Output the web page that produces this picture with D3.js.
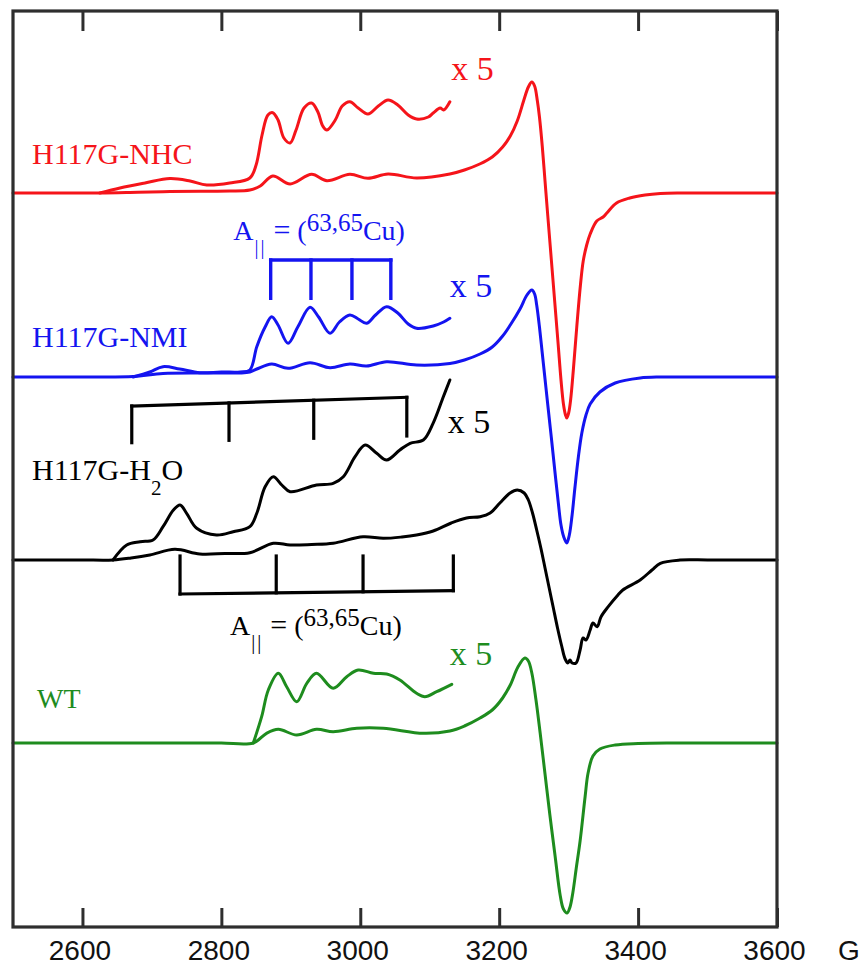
<!DOCTYPE html>
<html>
<head>
<meta charset="utf-8">
<script src="https://cdn.jsdelivr.net/npm/d3@7"></script>
<style>
  html, body { margin: 0; padding: 0; background: #fff; }
  svg { display: block; }
</style>
</head>
<body>
<svg id="chart" width="864" height="968"></svg>
<script>
// ---- magnetic field axis (G) ----
const fieldDomain = [2500, 3600];
const fieldTicks = [2600, 2800, 3000, 3200, 3400, 3600];
const fieldUnit = "G";

// ---- spectra: [field (G), signal (a.u., relative to own baseline)] ----
const nhcFull = [[2500,0],[2560,0],[2625,0],[2680,0.8],[2726,1.5],[2770,1.8],[2812,2],[2841,3],[2856,7],[2874,17],[2899,9],[2930,18.7],[2952,12.3],[2985,18.7],[3011,14.7],[3040,19],[3081,15],[3129,19],[3150,23],[3172,29],[3190,36],[3205,46],[3216,57],[3226,72],[3236,94],[3242,106],[3247,111],[3251,107],[3255,92],[3258,76],[3262,47],[3266,12],[3270,-23],[3275,-66],[3280,-109],[3285,-152],[3289,-187],[3292.5,-211],[3295.5,-222],[3297.3,-225],[3300,-220],[3303,-206],[3307,-175],[3311.7,-134],[3317,-92],[3321,-68],[3326,-52],[3331,-41],[3340.5,-28],[3349.6,-24],[3355,-20],[3369,-10],[3388,-5],[3410,-2],[3432,-0.5],[3460,0],[3500,0],[3550,0],[3600,0]];
const nhcX5 = [[2625,0],[2654,5],[2690,10],[2726,14.5],[2755,12],[2779,8],[2812,10],[2841,15],[2850,28],[2858.6,58],[2867,78],[2874,80.3],[2881.6,73],[2890,55],[2899,50],[2907.5,63],[2919,85],[2930,90],[2939,81],[2946,67],[2952,63],[2964,73],[2974,87],[2985,91.3],[2997,85],[3011,79],[3026,87],[3040,93],[3054,88],[3069,78],[3081,74],[3098,76],[3105,80],[3115,85],[3120,83],[3129,91.3]];

const nmiFull = [[2500,0],[2560,0],[2620,0],[2673,0.5],[2716,3.5],[2769,4],[2800,4],[2827,4],[2841,5],[2851,8],[2872.5,13],[2896,8.7],[2927.7,14.3],[2956.5,9.3],[2985,13],[3009,11],[3038,15.3],[3081,12],[3129,13.5],[3150,17],[3172.5,23],[3190,30],[3205,41],[3216,52],[3230,68],[3240,82],[3247,87],[3251,83],[3254,72],[3258,50],[3262,24],[3266,-2],[3270,-28],[3275,-60],[3280,-93],[3285,-125],[3289,-148],[3293,-160],[3297.3,-166],[3301,-158],[3305,-138],[3309,-111],[3314,-80],[3319,-56],[3325,-38],[3331,-27],[3345,-15],[3367,-6],[3403,-1],[3432,0],[3480,0],[3540,0],[3600,0]];
const nmiX5 = [[2673,0],[2697,5],[2716,10.3],[2740,8],[2769,4.3],[2800,5],[2827,5],[2841,7],[2851,30.3],[2863,50],[2872.5,60.3],[2881.6,52],[2896,33.7],[2910,50],[2927.7,69.7],[2940,60],[2956.5,43.7],[2970,55],[2985,62],[2997,58],[3009,53.7],[3022,62],[3038,70.3],[3054,64],[3069,53],[3081,48.7],[3105,51],[3120,55],[3129,58.7]];

const waterFull = [[2500,0],[2550,0],[2600,0],[2644,0],[2670,2],[2697,5],[2733,10.7],[2769,6],[2805,6.5],[2841,7.3],[2874.8,16.7],[2899,15],[2930,15.5],[2961,16.7],[3004,23.3],[3033,21.7],[3060,23],[3081,25],[3105,29],[3131,37],[3153,42],[3172.5,43.3],[3187,47],[3201,57],[3215.7,67],[3226,70],[3236,67],[3242,60],[3248,47],[3254,30],[3260,12],[3266,-8],[3272,-28],[3278,-48],[3284,-68],[3290,-86],[3295,-99],[3299,-103],[3302,-100],[3305,-103],[3310.7,-103],[3316.5,-90],[3320.8,-78],[3325,-80],[3331,-70],[3335,-63],[3341,-66.7],[3346.7,-56.7],[3357,-46.7],[3371,-35],[3378,-30],[3403,-20],[3420,-10],[3432,-3.3],[3460.5,0],[3500,0],[3550,0],[3600,0]];
const waterX5 = [[2644,0],[2663.7,15],[2683,18.3],[2701.6,20],[2716,33.3],[2731,50],[2740.5,55],[2750,46.7],[2764.5,31.7],[2793,25],[2817,28.3],[2841,33.3],[2851,46.7],[2863,73.3],[2874.8,83.3],[2887,75],[2899,68.3],[2937,75],[2961,76.7],[2975.6,83.3],[2992.5,103.3],[3007,115],[3023.7,106.7],[3038,100],[3057,110],[3071.7,116.7],[3090.8,120],[3104.8,136.7],[3119.6,163.3],[3129,180]];

const wtFull = [[2500,0],[2560,0],[2620,0],[2680,0],[2740,0],[2800,0],[2846,0],[2865,9.7],[2882,13.7],[2908.5,8],[2937,13.7],[2961,11.3],[2995,14.7],[3033,14.7],[3091,9.7],[3129,12],[3150,17],[3172.5,25],[3190,33],[3205,45],[3216,58],[3227,76],[3237,85],[3242,82],[3247,70],[3253,43],[3259,10],[3266,-31],[3273,-72],[3280.5,-113],[3288,-153],[3292.5,-166],[3297.8,-170],[3302,-164],[3306,-150],[3311,-125],[3316.5,-98],[3323.7,-53.7],[3328,-30],[3335,-13],[3345,-6],[3367,-2],[3400,-0.5],[3450,0],[3500,0],[3550,0],[3600,0]];
const wtX5 = [[2846,0],[2858,26.3],[2867.6,53],[2882,69.7],[2894,56.3],[2908.5,41.3],[2923,59.7],[2937,69.7],[2961,54.7],[2980.5,66.3],[2997,73],[3019,69.7],[3038,69],[3057,63],[3081,49.7],[3093,46.3],[3110,51.3],[3131.7,58.7]];

// ---- stacking and styling of the four samples ----
const sampleNames = ["H117G-NHC", "H117G-NMI", "H117G-H2O", "WT"];
const sampleColors = ["#f5141a", "#1414f0", "#000000", "#1e8c1e"];
const sampleOffsets = [734, 550, 367, 184];
const sampleFull = [nhcFull, nmiFull, waterFull, wtFull];
const sampleX5 = [nhcX5, nmiX5, waterX5, wtX5];
const gainLabel = "x 5";

// ---- 63,65Cu hyperfine splitting markers (G) ----
const nmiSplitting = [2871, 2929, 2988, 3044];
const waterUpperSplitting = [2671, 2811, 2933, 3067];
const waterLowerSplitting = [2740.5, 2879, 3004, 3134];

const plot = { left: 13, right: 777, top: 11, bottom: 927 };
const svg = d3.select("#chart");
const serif = "'Liberation Serif', 'Times New Roman', Times, serif";
const sans = "'Liberation Sans', Arial, Helvetica, sans-serif";
const frameColor = "#2e2e2e";

const x = d3.scaleLinear().domain(fieldDomain).range([plot.left, plot.right]);
const y = d3.scaleLinear().domain([0, 916]).range([plot.bottom, plot.top]);

// spectra
sampleNames.forEach((name, i) => {
  const off = sampleOffsets[i];
  const line = d3.line()
    .x(d => x(d[0]))
    .y(d => y(off + d[1]))
    .curve(d3.curveCatmullRom.alpha(0.5));
  [sampleFull[i], sampleX5[i]].forEach(series => {
    svg.append("path")
      .datum(series)
      .attr("d", line)
      .attr("fill", "none")
      .attr("stroke", sampleColors[i])
      .attr("stroke-width", 3)
      .attr("stroke-linejoin", "round")
      .attr("stroke-linecap", "round");
  });
});

// splitting brackets: horizontal bar with a drop line at each hyperfine position
function bracket(fields, off, barL, barR, tipL, tipR, color, width) {
  const f0 = fields[0], f1 = fields[fields.length - 1];
  const lerp = (a, b, f) => a + (b - a) * (f - f0) / (f1 - f0);
  const g = svg.append("g").attr("stroke", color).attr("stroke-width", width)
    .attr("fill", "none").attr("stroke-linecap", "square");
  g.append("line")
    .attr("x1", x(f0)).attr("y1", y(off + barL))
    .attr("x2", x(f1)).attr("y2", y(off + barR));
  g.selectAll("line.tick").data(fields).join("line").attr("class", "tick")
    .attr("x1", d => x(d)).attr("x2", d => x(d))
    .attr("y1", d => y(off + lerp(barL, barR, d)))
    .attr("y2", d => y(off + lerp(tipL, tipR, d)));
}
bracket(nmiSplitting, sampleOffsets[1], 117, 117, 78.7, 78.7, sampleColors[1], 3.4);
bracket(waterUpperSplitting, sampleOffsets[2], 154, 162.7, 117.3, 124, "#000", 3.2);
bracket(waterLowerSplitting, sampleOffsets[2], -34, -30.7, 4, 4, "#000", 3.2);

// A|| = (63,65Cu) annotation
function aParallel(px, py, color) {
  const t = svg.append("text").attr("x", px).attr("y", py).attr("fill", color)
    .style("font-family", serif).style("font-size", "28px");
  t.append("tspan").text("A");
  t.append("tspan").attr("dx", 1).attr("dy", 14).style("font-size", "20px")
    .style("letter-spacing", "2px").text("||");
  t.append("tspan").attr("dx", 7).attr("dy", -14).style("font-size", "30px").text("=");
  t.append("tspan").attr("dx", 7).text("(");
  t.append("tspan").attr("dy", -9).style("font-size", "25px").text("63,65");
  t.append("tspan").attr("dy", 9).text("Cu)");
}
aParallel(x(2817), y(sampleOffsets[1] + 137), sampleColors[1]);
aParallel(x(2812.5), y(sampleOffsets[2] - 75), "#000");

// sample names
const nameLevels = [29, 30, 80, 35];
sampleNames.forEach((name, i) => {
  const t = svg.append("text")
    .attr("x", i === 3 ? 37 : 32)
    .attr("y", y(sampleOffsets[i] + nameLevels[i]))
    .attr("fill", sampleColors[i])
    .style("font-family", serif)
    .style("font-size", i === 3 ? "28px" : "30px");
  if (name === "H117G-H2O") {
    t.append("tspan").text("H117G-H");
    t.append("tspan").attr("dy", 15).style("font-size", "21px").text("2");
    t.append("tspan").attr("dy", -15).text("O");
  } else {
    t.text(name);
  }
});

// gain labels for the expanded parallel region
const gainPos = [[3131, 113], [3129, 80], [3126, 127], [3129, 78]];
gainPos.forEach((p, i) => {
  svg.append("text")
    .attr("x", x(p[0])).attr("y", y(sampleOffsets[i] + p[1]))
    .attr("fill", sampleColors[i])
    .style("font-family", serif).style("font-size", "34px")
    .text(gainLabel);
});

// frame with inward ticks on top and bottom
svg.append("rect")
  .attr("x", plot.left).attr("y", plot.top)
  .attr("width", plot.right - plot.left).attr("height", plot.bottom - plot.top)
  .attr("fill", "none").attr("stroke", frameColor).attr("stroke-width", 3.2);

const xAxisBottom = d3.axisBottom(x).tickValues(fieldTicks).tickSize(-19).tickFormat("");
const xAxisTop = d3.axisTop(x).tickValues(fieldTicks).tickSize(-20).tickFormat("");
[[xAxisBottom, plot.bottom], [xAxisTop, plot.top]].forEach(([ax, ty]) => {
  const g = svg.append("g").attr("transform", `translate(0,${ty})`).call(ax);
  g.select(".domain").remove();
  g.selectAll(".tick line").attr("stroke", frameColor).attr("stroke-width", 3);
});

// tick labels
svg.append("g").selectAll("text").data(fieldTicks).join("text")
  .attr("x", d => x(d) - 2.5).attr("y", 960)
  .attr("text-anchor", "middle")
  .attr("fill", "#111")
  .style("font-family", sans).style("font-size", "28px")
  .text(d => d);
svg.append("text").attr("x", 838).attr("y", 960)
  .attr("fill", "#111")
  .style("font-family", sans).style("font-size", "28px")
  .text(fieldUnit);
</script>
</body>
</html>
